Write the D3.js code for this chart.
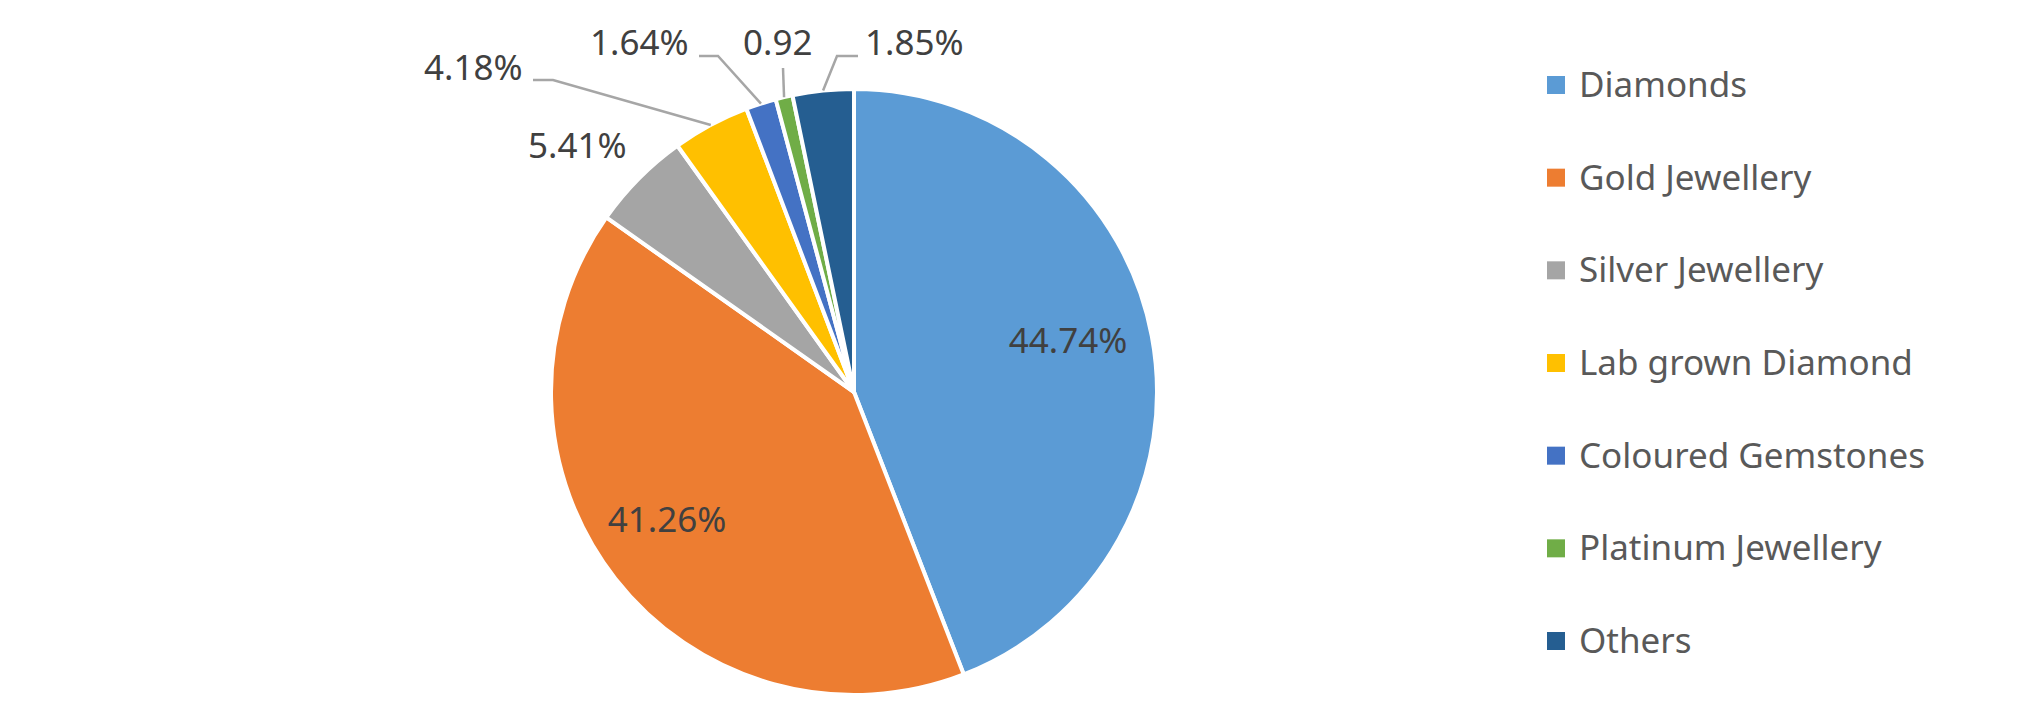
<!DOCTYPE html>
<html>
<head>
  <meta charset="UTF-8">
  <title>Jewellery share</title>
  <style>
    body { margin: 0; background: #fff; }
    svg text { font-family: "Noto Sans", "Open Sans", sans-serif; }
  </style>
</head>
<body>
<svg></svg>
<script src="https://d3js.org/d3.v7.min.js"></script>

<script>

let width = 2027, height = 726;

// data
let categories = ["Diamonds", "Gold Jewellery", "Silver Jewellery", "Lab grown Diamond",
                  "Coloured Gemstones", "Platinum Jewellery", "Others"];
// slice sizes as drawn (the "Others" slice is drawn wider than its label says)
let values = [44.74, 41.26, 5.41, 4.18, 1.64, 0.92, 3.3];
let labels = ["44.74%", "41.26%", "5.41%", "4.18%", "1.64%", "0.92", "1.85%"];
let colors = ["#5B9BD5", "#ED7D31", "#A5A5A5", "#FFC000", "#4472C4", "#70AD47", "#255E91"];

// label layout (page px): text x, baseline y, anchor, leader start + elbow
let labelLayout = [
  { x: 1068, y: 353, anchor: "middle" },
  { x: 667,  y: 532, anchor: "middle" },
  { x: 528,  y: 158, anchor: "start" },
  { x: 424,  y: 80,  anchor: "start", lead: [[533, 80], [553, 80]] },
  { x: 590,  y: 55,  anchor: "start", lead: [[699, 56], [718, 56]] },
  { x: 743,  y: 55,  anchor: "start", lead: [[783, 68]] },
  { x: 865,  y: 55,  anchor: "start", lead: [[858, 56], [837, 56]] }
];

let cx = 854, cy = 392, radius = 303;

let svg = d3.select("svg")
    .attr("width", width)
    .attr("height", height);

let pie = d3.pie()
    .value(d => d)
    .sort(null);

let arcs = pie(values);

let arc = d3.arc()
    .innerRadius(0)
    .outerRadius(radius);

// zero-width arc, its centroid is the point on the rim at the slice middle
let rim = d3.arc()
    .innerRadius(radius)
    .outerRadius(radius);

let g = svg.append("g")
    .attr("transform", "translate(" + cx + "," + cy + ")");

g.selectAll("path.slice")
  .data(arcs)
  .enter()
  .append("path")
    .attr("class", "slice")
    .attr("d", arc)
    .attr("fill", (d, i) => colors[i])
    .attr("stroke", "#fff")
    .attr("stroke-width", 4)
    .attr("stroke-linejoin", "round");

// leader lines
let line = d3.line();
arcs.forEach((d, i) => {
    let lay = labelLayout[i];
    if (!lay.lead) return;
    let end = rim.centroid(d);
    let pts = lay.lead.map(p => [p[0] - cx, p[1] - cy]);
    pts.push(end);
    g.append("path")
        .attr("d", line(pts))
        .attr("fill", "none")
        .attr("stroke", "#A6A6A6")
        .attr("stroke-width", 2.5);
});

// data labels
svg.append("g")
  .selectAll("text")
  .data(labels)
  .enter()
  .append("text")
    .attr("x", (d, i) => labelLayout[i].x)
    .attr("y", (d, i) => labelLayout[i].y)
    .attr("text-anchor", (d, i) => labelLayout[i].anchor)
    .attr("font-size", 35)
    .attr("fill", "#404040")
    .text(d => d);

// legend
let legendY = d3.scalePoint()
    .domain(categories)
    .range([85, 641]);

let legend = svg.append("g")
  .selectAll("g.legend")
  .data(categories)
  .enter()
  .append("g")
    .attr("class", "legend");

legend.append("rect")
    .attr("x", 1547)
    .attr("y", d => legendY(d) - 9)
    .attr("width", 18)
    .attr("height", 18)
    .attr("fill", (d, i) => colors[i]);

legend.append("text")
    .attr("x", 1579)
    .attr("y", d => legendY(d) + 12)
    .attr("font-size", 35)
    .attr("fill", "#595959")
    .text(d => d);

</script>

</body>
</html>
